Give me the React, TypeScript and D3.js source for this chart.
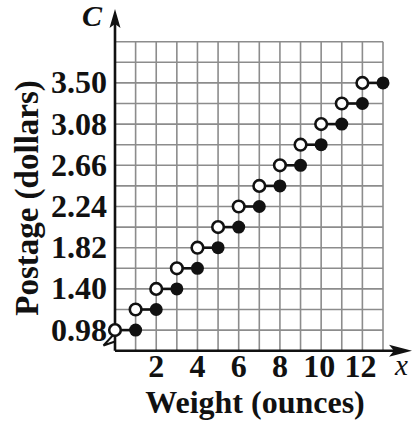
import React from "react";
import * as d3 from "d3";

const stepStarts = [0, 1, 2, 3, 4, 5, 6, 7, 8, 9, 10, 11, 12];
const postage = [0.98, 1.19, 1.4, 1.61, 1.82, 2.03, 2.24, 2.45, 2.66, 2.87, 3.08, 3.29, 3.5];
const yTickLabels = ["0.98", "1.40", "1.82", "2.24", "2.66", "3.08", "3.50"];
const xTickValues = [2, 4, 6, 8, 10, 12];
const yGridValues = d3.range(0, 16).map((i) => +(0.77 + i * 0.21).toFixed(2));
const xGridValues = d3.range(0, 14);

const W = 415;
const H = 423;
const left = 115;
const right = 383;
const top = 41.7;
const bottom = 350.7;

export default function App() {
  const x = d3.scaleLinear().domain([0, 13]).range([left, right]);
  const y = d3.scaleLinear().domain([0.77, 3.92]).range([bottom, top]);
  const font = "'Liberation Serif', 'Times New Roman', serif";
  const grid = "#8c8c8c";
  const r = 5.8;

  return (
    <svg
      width={W}
      height={H}
      style={{ position: "absolute", left: 0, top: 0, background: "#fff" }}
      fontFamily={font}
    >
      <rect width={W} height={H} fill="#fff" />
      {/* grid */}
      {xGridValues.slice(1).map((v) => (
        <line key={"vx" + v} x1={x(v)} x2={x(v)} y1={top} y2={bottom} stroke={grid} strokeWidth={1.6} />
      ))}
      {yGridValues.slice(1).map((v) => (
        <line key={"hy" + v} x1={left} x2={right} y1={y(v)} y2={y(v)} stroke={grid} strokeWidth={1.6} />
      ))}
      {/* axes */}
      <line x1={left} x2={405} y1={bottom} y2={bottom} stroke="#111" strokeWidth={2.6} />
      <path d={`M412,${bottom} L389,${bottom - 6} L394,${bottom} L389,${bottom + 6} Z`} fill="#111" />
      <line x1={left} x2={left} y1={bottom} y2={20} stroke="#111" strokeWidth={2.6} />
      <path d={`M${left},9 L${left - 5.5},28 L${left},24 L${left + 5.5},28 Z`} fill="#111" />
      {/* axis break */}
      <path d={`M${left},333 L103.5,345.5 L${left},341.5`} fill="none" stroke="#111" strokeWidth={2} />
      {/* steps */}
      {stepStarts.map((s, i) => (
        <g key={"s" + i}>
          <line x1={x(s)} x2={x(s + 1)} y1={y(postage[i])} y2={y(postage[i])} stroke="#111" strokeWidth={2.6} />
          <circle cx={x(s)} cy={y(postage[i])} r={r} fill="#fff" stroke="#111" strokeWidth={2.6} />
          <circle cx={x(s + 1)} cy={y(postage[i])} r={r + 0.7} fill="#111" />
        </g>
      ))}
      {/* y tick labels */}
      {yTickLabels.map((t) => (
        <text key={"yt" + t} x={107} y={y(+t) + 10.5} textAnchor="end" fontSize={32} fontWeight="bold" fill="#111">
          {t}
        </text>
      ))}
      {/* x tick labels */}
      {xTickValues.map((v) => (
        <text key={"xt" + v} x={x(v) - (v >= 10 ? 2 : 0)} y={377} textAnchor="middle" fontSize={32} fontWeight="bold" fill="#111">
          {v}
        </text>
      ))}
      {/* axis letters */}
      <text x={82} y={26} fontSize={30} fontWeight="bold" fontStyle="italic" fill="#111">C</text>
      <text x={395} y={375} fontSize={29} fontStyle="italic" fill="#111">x</text>
      {/* axis titles */}
      <text x={255} y={413} textAnchor="middle" fontSize={32} fontWeight="bold" fill="#111">
        Weight (ounces)
      </text>
      <text
        transform={`translate(38,198) rotate(-90)`}
        textAnchor="middle"
        fontSize={33}
        fontWeight="bold"
        fill="#111"
      >
        Postage (dollars)
      </text>
    </svg>
  );
}
